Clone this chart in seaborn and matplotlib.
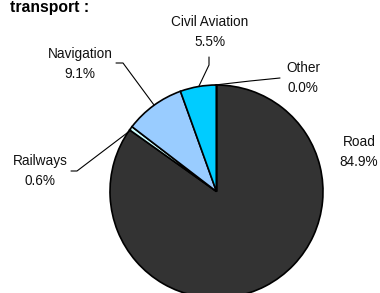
import matplotlib
matplotlib.use("Agg")
import matplotlib.pyplot as plt
import seaborn as sns

sns.set_theme(style="white")
plt.rcParams['font.family'] = ['Liberation Sans', 'DejaVu Sans']

categories = ["Road", "Railways", "Navigation", "Civil Aviation", "Other"]
values = [84.9, 0.6, 9.1, 5.5, 0.0]
colors = ["#333333", "#CCFFFF", "#99CCFF", "#00CCFF", "#FFFFFF"]

W, H = 380, 293
fig = plt.figure(figsize=(3.8, 2.93), dpi=100)
ax = fig.add_axes([0, 0, 1, 1])

def py(y):
    return H - y

cx, cy, r = 216.5, 191.5, 106.5
ax.pie(values, colors=colors, startangle=90, counterclock=False,
       center=(cx, py(cy)), radius=r,
       wedgeprops=dict(edgecolor="black", linewidth=1.2))
ax.set_xlim(0, W)
ax.set_ylim(0, H)
ax.set_aspect('equal')
ax.axis('off')

# label centres (pixel positions from top-left)
label_pos = {
    "Road": (359, 152),
    "Railways": (40, 171),
    "Navigation": (80, 64),
    "Civil Aviation": (210, 32),
    "Other": (303, 78),
}
fs = 9.8
for cat, val in zip(categories, values):
    x, y = label_pos[cat]
    ax.text(x, py(y), f"{cat}\n{val:.1f}%", ha="center", va="center",
            fontsize=fs, linespacing=1.6, color="#111111")

# leader lines
leaders = [
    [(209, 57), (209, 65), (199, 86)],
    [(280, 78), (250, 81), (215, 85)],
    [(116, 63), (123, 63), (154, 105)],
    [(71, 171), (77, 171), (131, 130)],
]
for pts in leaders:
    xs = [p[0] for p in pts]
    ys = [py(p[1]) for p in pts]
    ax.plot(xs, ys, color="black", linewidth=0.8)

ax.text(10, py(12), "transport :", fontsize=11.3, fontweight="bold",
        ha="left", va="baseline", color="black")

fig.savefig("out.png", dpi=100)
